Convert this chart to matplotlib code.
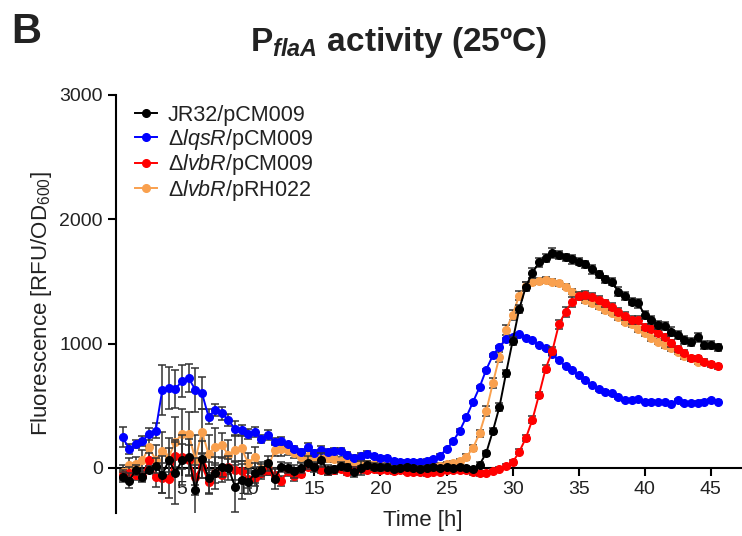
import numpy as np
import matplotlib
matplotlib.use("Agg")
import matplotlib.pyplot as plt

plt.rcParams['font.family'] = ['Liberation Sans', 'DejaVu Sans']
plt.rcParams['mathtext.fontset'] = 'custom'
plt.rcParams['mathtext.rm'] = 'Liberation Sans'
plt.rcParams['mathtext.it'] = 'Liberation Sans:italic'
plt.rcParams['mathtext.bf'] = 'Liberation Sans:bold'
plt.rcParams['mathtext.bfit'] = 'Liberation Sans:bold:italic'

# time grid, one reading every 30 min
t = np.arange(0.5, 45.51, 0.5)
t_orange = t[t <= 44.0]

black = [-70, -102, -14, -70, -14, 18, -54, 64, -38, 64, 86, -177, 70, -83, -40, 10,
         0, -150, -96, -110, -43, -14, 38, -88, 10, 0, -27, 0, 43, 10, 64, -14,
         -10, 20, 5, -30, 0, 27, 10, 5, 10, -5, 0, 5, 0, -5, 0, 5, 0, 5, 0, 5, 0, -5, 27,
         120, 295, 490, 761, 1021, 1278, 1458, 1570, 1654, 1690, 1731, 1712, 1694, 1678,
         1659, 1638, 1598, 1558, 1518, 1498, 1418, 1383, 1337, 1324, 1230, 1190, 1150,
         1142, 1096, 1070, 1029, 1015, 1051, 989, 989, 970]
blue = [247, 153, 193, 217, 274, 300, 628, 644, 636, 702, 723, 628, 603, 413, 467, 440,
        386, 314, 306, 274, 290, 233, 265, 212, 217, 193, 153, 131, 168, 122, 148, 130,
        139, 139, 105, 83, 96, 113, 96, 78, 78, 59, 51, 51, 51, 51, 59, 70, 100, 150, 215,
        300, 410, 530, 650, 790, 905, 975, 1035, 1055, 1075, 1048, 1030, 990, 962, 916,
        868, 820, 788, 748, 707, 667, 633, 614, 600, 568, 547, 547, 551, 533, 533, 530,
        530, 515, 547, 520, 520, 525, 533, 547, 533]
red = [-54, -40, -54, -62, 64, -70, -83, -91, 96, 91, 64, -70, 18, -110, -40, -56,
       10, -20, -27, -91, -83, -38, -14, -54, -102, -27, -67, -46, 10, 10, -14, -27,
       -20, -10, -30, -20, -5, -15, -10, -20, -15, -25, -20, -29, -30, -35, -43, -30, -29,
       -20, -15, -15, -20, -35, -43, -37, -21, -10, 18, 45, 130, 240, 390, 590, 800, 940,
       1155, 1257, 1337, 1383, 1391, 1378, 1351, 1324, 1297, 1257, 1222, 1190, 1190,
       1136, 1115, 1083, 1056, 1002, 954, 927, 882, 882, 855, 836, 820]
orange = [-29, 27, 30, 64, 166, 64, 139, 91, 212, 274, 274, 64, 292, 113, 171, 184,
          105, 145, 158, 38, 91, -10, 0, 145, 150, 145, 123, 91, 96, 91, 91, 78,
          70, 60, 55, 40, 45, 35, 30, 25, 20, 15, 15, 15, 10, 10, 10, 15, 20, 30, 40, 55,
          90, 160, 279, 455, 680, 895, 1110, 1234, 1387, 1463, 1498, 1505, 1512, 1498,
          1485, 1458, 1418, 1391, 1351, 1324, 1302, 1270, 1250, 1211, 1177, 1158, 1115,
          1083, 1043, 1015, 989, 962, 936, 900, 882, 855]

black_err = [40, 60, 40, 40, 30, 60, 150, 100, 250, 200, 150, 200, 150, 130, 130, 80,
             100, 200, 150, 100, 80, 50, 60, 80, 40, 40, 50, 40, 50, 40, 60, 40,
             30, 30, 30, 40, 60, 30, 30, 30, 20, 20, 20, 20, 20, 20, 20, 20, 15, 15, 15, 15, 15, 15, 20,
             20, 25, 30, 30, 35, 35, 35, 40, 35, 30, 40, 35, 30, 35, 30, 30, 35, 30, 30,
             30, 35, 30, 30, 35, 35, 30, 30, 30, 35, 30, 30, 30, 35, 30, 30, 30]
blue_err = [80, 40, 30, 40, 50, 60, 200, 170, 150, 130, 110, 180, 130, 60, 50, 50,
            50, 60, 40, 40, 40, 30, 40, 30, 30, 20, 20, 20, 30, 20, 30, 20,
            20, 20, 20, 20, 25, 20, 15, 15, 15, 15, 15, 15, 15, 15, 15, 10, 10, 10, 10, 10, 10, 10, 10,
            10, 10, 10, 10, 10, 10, 10, 10, 10, 10, 10, 10, 10, 10, 10, 10, 10, 10,
            10, 10, 10, 10, 10, 10, 10, 10, 10, 10, 10, 10, 10, 10, 10, 10, 10, 10]
red_err = [40, 50, 40, 40, 60, 80, 120, 150, 130, 100, 120, 150, 100, 90, 80, 60,
           60, 80, 60, 70, 60, 50, 40, 50, 40, 40, 40, 30, 30, 30, 30, 30,
           25, 25, 25, 25, 25, 25, 20, 20, 20, 20, 20, 20, 20, 20, 20, 20, 20, 20, 20, 20, 20, 20, 20,
           15, 15, 15, 15, 20, 20, 25, 25, 25, 30, 35, 35, 40, 40, 35, 30, 30, 30,
           30, 30, 30, 30, 30, 30, 25, 25, 25, 25, 25, 25, 20, 20, 20, 20, 20, 20]
orange_err = [50, 50, 60, 80, 100, 120, 150, 150, 200, 200, 180, 200, 180, 150, 150, 100,
              120, 120, 100, 80, 80, 60, 60, 50, 50, 40, 40, 40, 40, 30, 30, 30,
              25, 25, 25, 25, 20, 20, 20, 20, 20, 20, 20, 20, 20, 20, 20, 20, 20, 20, 20, 20, 25, 25, 30,
              40, 40, 40, 40, 40, 35, 30, 30, 25, 25, 20, 20, 20, 20, 20, 20, 20, 20,
              20, 20, 20, 20, 20, 20, 20, 20, 20, 20, 20, 20, 20, 20, 20]

labels = ['JR32/pCM009',
          r'$\Delta\mathit{lqsR}$/pCM009',
          r'$\Delta\mathit{lvbR}$/pCM009',
          r'$\Delta\mathit{lvbR}$/pRH022']
colors = ['#000000', '#0000ff', '#ff0000', '#f9a04e']

fig = plt.figure(figsize=(7.42, 5.36), dpi=100)
ax = fig.add_axes([116 / 742, 1 - 513 / 536, 626 / 742, 418 / 536])

series = [(t, black, black_err, 4), (t, blue, blue_err, 2), (t, red, red_err, 3),
          (t_orange, orange, orange_err, 1)]
handles = []
for (x, y, e, z), c, lab in zip(series, colors, labels):
    ax.errorbar(x, y, yerr=e, fmt='none', ecolor='#333333', elinewidth=1.1,
                capsize=3, capthick=1.1, zorder=z)
    h, = ax.plot(x, y, '-o', color=c, lw=1.4, ms=5.5, zorder=z + 0.5, label=lab)
    handles.append(h)

ax.set_xlim(0, 47.35)
ax.set_ylim(-362, 3000)
ax.spines['top'].set_visible(False)
ax.spines['right'].set_visible(False)
ax.spines['bottom'].set_position(('data', 0))
ax.spines['left'].set_linewidth(1.5)
ax.spines['bottom'].set_linewidth(1.5)
ax.spines['bottom'].set_zorder(0.5)
ax.set_xticks([5, 10, 15, 20, 25, 30, 35, 40, 45])
ax.set_yticks([0, 1000, 2000, 3000])
ax.tick_params(direction='out', length=6, width=1.5, labelsize=14, labelcolor='#222222')
ax.set_xlabel('Time [h]', fontsize=16, color='#222222')
ax.xaxis.set_label_coords(0.49, 0.006)
ax.set_ylabel('Fluorescence [RFU/OD$_{600}$]', fontsize=16, color='#222222')
ax.yaxis.set_label_coords(-0.099, 0.5)

leg = ax.legend(handles=handles, loc='upper left', bbox_to_anchor=(0.017, 0.997),
                frameon=False, fontsize=15.5, handlelength=1.0, handletextpad=0.5,
                labelspacing=0.03, borderaxespad=0, borderpad=0.4)
for txt in leg.get_texts():
    txt.set_color('#222222')

fig.text(0.537, 0.92, r'P$_{\mathbfit{flaA}}$ activity (25ºC)', ha='center', va='center',
         fontsize=24, fontweight='bold', color='#222222')
fig.text(0.015, 0.94, 'B', ha='left', va='center', fontsize=30, fontweight='bold',
         color='#222222')

fig.savefig('out.png', dpi=100)
